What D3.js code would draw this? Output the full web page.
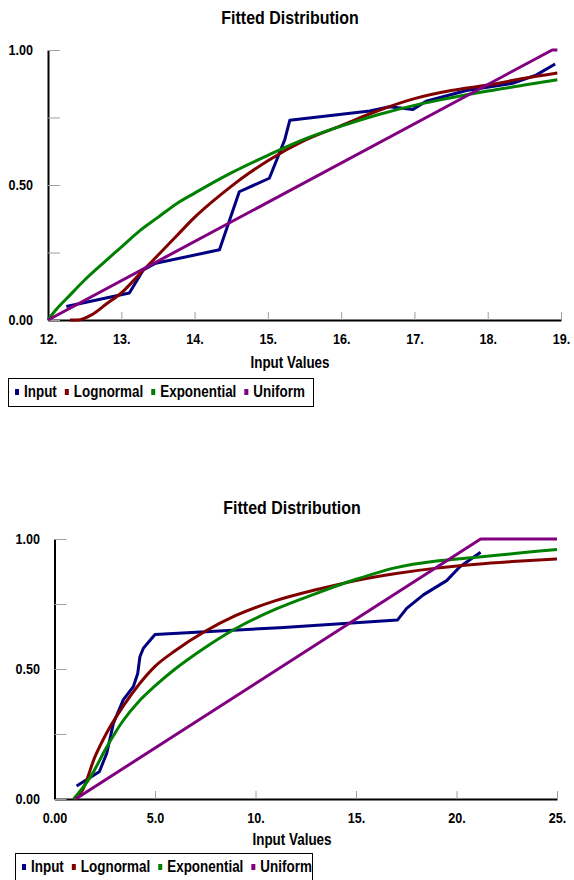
<!DOCTYPE html>
<html>
<head>
<meta charset="utf-8">
<script src="https://cdn.jsdelivr.net/npm/d3@7"></script>
<style>
  body { margin: 0; background: #fff; }
  svg text { font-family: "Liberation Sans Narrow", "Arial Narrow", "Liberation Sans", Arial, sans-serif; font-weight: bold; fill: #000; }
</style>
</head>
<body>
<div id="chart"></div>
<script>
// series names and colours (legend order)
var seriesNames = ["Input", "Lognormal", "Exponential", "Uniform"];
var seriesColors = ["#000080", "#800000", "#008000", "#800080"];

// ---- chart 1 data (x values 12..19) ----
var topXTicks = [12, 13, 14, 15, 16, 17, 18, 19];
var topXLabels = ["12.", "13.", "14.", "15.", "16.", "17.", "18.", "19."];

var topInputX = [12.25, 13.11, 13.3, 13.47, 14.34, 14.61, 15.02, 15.23, 15.3, 16.39, 16.66, 16.98, 17.16, 17.71, 18.34, 18.66, 18.92];
var topInputY = [0.05, 0.10, 0.185, 0.21, 0.26, 0.475, 0.525, 0.667, 0.74, 0.774, 0.79, 0.78, 0.81, 0.85, 0.877, 0.907, 0.948];

var topLognX = [12.3, 12.4, 12.6, 12.8, 13.0, 13.25, 13.5, 13.75, 14.0, 14.25, 14.5, 14.75, 15.0, 15.5, 16.0, 16.5, 17.0, 17.5, 18.0, 18.5, 18.95];
var topLognY = [0, 0, 0.02, 0.06, 0.10, 0.17, 0.24, 0.31, 0.38, 0.44, 0.495, 0.545, 0.59, 0.665, 0.72, 0.775, 0.82, 0.85, 0.87, 0.895, 0.915];

var topExpoX = [12.0, 12.1, 12.3, 12.5, 12.75, 13.0, 13.25, 13.5, 13.75, 14.0, 14.5, 15.0, 15.5, 16.0, 16.5, 17.0, 17.5, 18.0, 18.5, 18.95];
var topExpoY = [0, 0.035, 0.092, 0.148, 0.21, 0.27, 0.33, 0.38, 0.43, 0.47, 0.545, 0.61, 0.67, 0.718, 0.76, 0.795, 0.823, 0.848, 0.87, 0.89];

var topUnifX = [12.0, 18.88, 18.95];
var topUnifY = [0, 1.0, 1.0];

// ---- chart 2 data (x values 0..25) ----
var botXTicks = [0, 5, 10, 15, 20, 25];
var botXLabels = ["0.00", "5.0", "10.", "15.", "20.", "25."];

var botInputX = [1.1, 2.23, 2.6, 2.93, 3.42, 3.92, 4.14, 4.25, 4.42, 5.0, 11.2, 17.06, 17.52, 18.35, 19.51, 20.17, 21.2];
var botInputY = [0.05, 0.105, 0.176, 0.291, 0.381, 0.432, 0.483, 0.547, 0.58, 0.633, 0.659, 0.688, 0.733, 0.785, 0.84, 0.893, 0.949];

var botLognX = [1.0, 1.4, 2.0, 2.6, 3.4, 4.25, 5.0, 6.0, 7.5, 9.0, 11.0, 13.0, 15.0, 17.0, 19.0, 21.0, 23.0, 25.0];
var botLognY = [0, 0.035, 0.16, 0.255, 0.355, 0.445, 0.51, 0.57, 0.645, 0.705, 0.763, 0.805, 0.84, 0.867, 0.888, 0.903, 0.914, 0.923];

var botExpoX = [0.95, 1.8, 2.6, 3.4, 4.25, 5.0, 6.0, 7.5, 9.0, 11.0, 13.0, 15.0, 17.0, 19.0, 21.0, 23.0, 25.0];
var botExpoY = [0, 0.086, 0.2, 0.3, 0.38, 0.435, 0.5, 0.583, 0.655, 0.73, 0.79, 0.845, 0.89, 0.915, 0.93, 0.945, 0.96];

var botUnifX = [1.05, 21.2, 25.0];
var botUnifY = [0, 1.0, 1.0];

// y axis shared
var yTicks = [0, 0.25, 0.5, 0.75, 1.0];
var yLabels = ["0.00", "", "0.50", "", "1.00"];

var titleText = "Fitted Distribution";
var xTitleText = "Input Values";

// curve per series: fitted ones smooth, input and uniform straight segments
var seriesCurves = [d3.curveLinear, d3.curveMonotoneX, d3.curveMonotoneX, d3.curveLinear];

// horizontal squeeze, the chart font is a narrow one
var SX = 0.84;

function zip(xs, ys) {
    return xs.map(function(x, i) { return [x, ys[i]]; });
}

var svg = d3.select("#chart").append("svg")
    .attr("width", 574)
    .attr("height", 880);

// text with narrow look
function addText(parent, x, y, str, size, anchor) {
    var t = parent.append("g")
        .attr("transform", `translate(${x}, ${y}) scale(${SX}, 1)`)
        .append("text")
        .attr("text-anchor", anchor || "start")
        .attr("dominant-baseline", "central")
        .attr("font-size", size)
        .text(str);
    return t;
}

function drawChart(cfg) {
    var g = svg.append("g");

    var x = d3.scaleLinear().domain(cfg.xDomain).range([cfg.left, cfg.right]);
    var y = d3.scaleLinear().domain([0, 1]).range([cfg.bottom, cfg.top]);

    // title
    addText(g, cfg.titleX, cfg.titleY, titleText, "19px", "middle");

    // x axis - ticks point up into the plot
    var xAxis = d3.axisBottom(x)
        .tickValues(cfg.xTicks)
        .tickFormat(function(d, i) { return cfg.xLabels[i]; })
        .tickSizeInner(-8)
        .tickSizeOuter(0)
        .tickPadding(13);

    var xg = g.append("g")
        .attr("transform", `translate(0, ${cfg.bottom})`)
        .call(xAxis);
    xg.selectAll(".tick line").attr("stroke", "#a0a0a0").attr("stroke-width", 1);
    xg.selectAll(".tick text")
        .attr("font-size", "15px").attr("font-family", null)
        .attr("transform", `scale(${SX}, 1)`);
    xg.select(".domain").attr("stroke", "#000").attr("stroke-width", 2);

    // y axis - ticks point right into the plot
    var pad = cfg.left - cfg.yLabelRight;
    var yAxis = d3.axisLeft(y)
        .tickValues(yTicks)
        .tickFormat(function(d, i) { return yLabels[i]; })
        .tickSizeInner(-12)
        .tickSizeOuter(0)
        .tickPadding(pad);

    var yg = g.append("g")
        .attr("transform", `translate(${cfg.left}, 0)`)
        .call(yAxis);
    yg.selectAll(".tick line").attr("stroke", "#a0a0a0").attr("stroke-width", 1);
    yg.selectAll(".tick text")
        .attr("font-size", "15px").attr("font-family", null)
        .attr("x", -pad / SX)
        .attr("transform", `scale(${SX}, 1)`);
    yg.select(".domain").attr("stroke", "#000").attr("stroke-width", 2);

    // axis title
    addText(g, cfg.titleX, cfg.xTitleY, xTitleText, "16px", "middle");

    // lines
    cfg.series.forEach(function(s, i) {
        var line = d3.line()
            .x(d => x(d[0]))
            .y(d => y(d[1]))
            .curve(seriesCurves[i]);
        g.append("path")
            .datum(s)
            .attr("fill", "none")
            .attr("stroke", seriesColors[i])
            .attr("stroke-width", 3)
            .attr("stroke-linejoin", "round")
            .attr("d", line);
    });

    // legend
    var lg = g.append("g");
    lg.append("rect")
        .attr("x", cfg.legend[0] + 0.5)
        .attr("y", cfg.legend[1] + 0.5)
        .attr("width", cfg.legend[2])
        .attr("height", cfg.legend[3])
        .attr("fill", "#fff")
        .attr("stroke", "#000")
        .attr("stroke-width", 1);

    var cx = cfg.legend[0] + 7;
    var cy = cfg.legend[1] + 14;
    seriesNames.forEach(function(name, i) {
        lg.append("rect")
            .attr("x", cx)
            .attr("y", cy - 3)
            .attr("width", 4)
            .attr("height", 6)
            .attr("fill", seriesColors[i]);
        var t = addText(lg, cx + 9, cy, name, "16px", "start");
        cx = cx + 9 + t.node().getComputedTextLength() * SX + 8;
    });
}

drawChart({
    xDomain: [12, 19], xTicks: topXTicks, xLabels: topXLabels,
    left: 48, right: 561, top: 50, bottom: 320,
    yLabelRight: 33, titleX: 290, titleY: 18, xTitleY: 363,
    legend: [8, 378, 305, 28],
    series: [zip(topInputX, topInputY), zip(topLognX, topLognY), zip(topExpoX, topExpoY), zip(topUnifX, topUnifY)]
});

drawChart({
    xDomain: [0, 25], xTicks: botXTicks, xLabels: botXLabels,
    left: 54.5, right: 557, top: 539, bottom: 799,
    yLabelRight: 40, titleX: 292, titleY: 508, xTitleY: 840,
    legend: [15, 853, 297, 40],
    series: [zip(botInputX, botInputY), zip(botLognX, botLognY), zip(botExpoX, botExpoY), zip(botUnifX, botUnifY)]
});
</script>
</body>
</html>
